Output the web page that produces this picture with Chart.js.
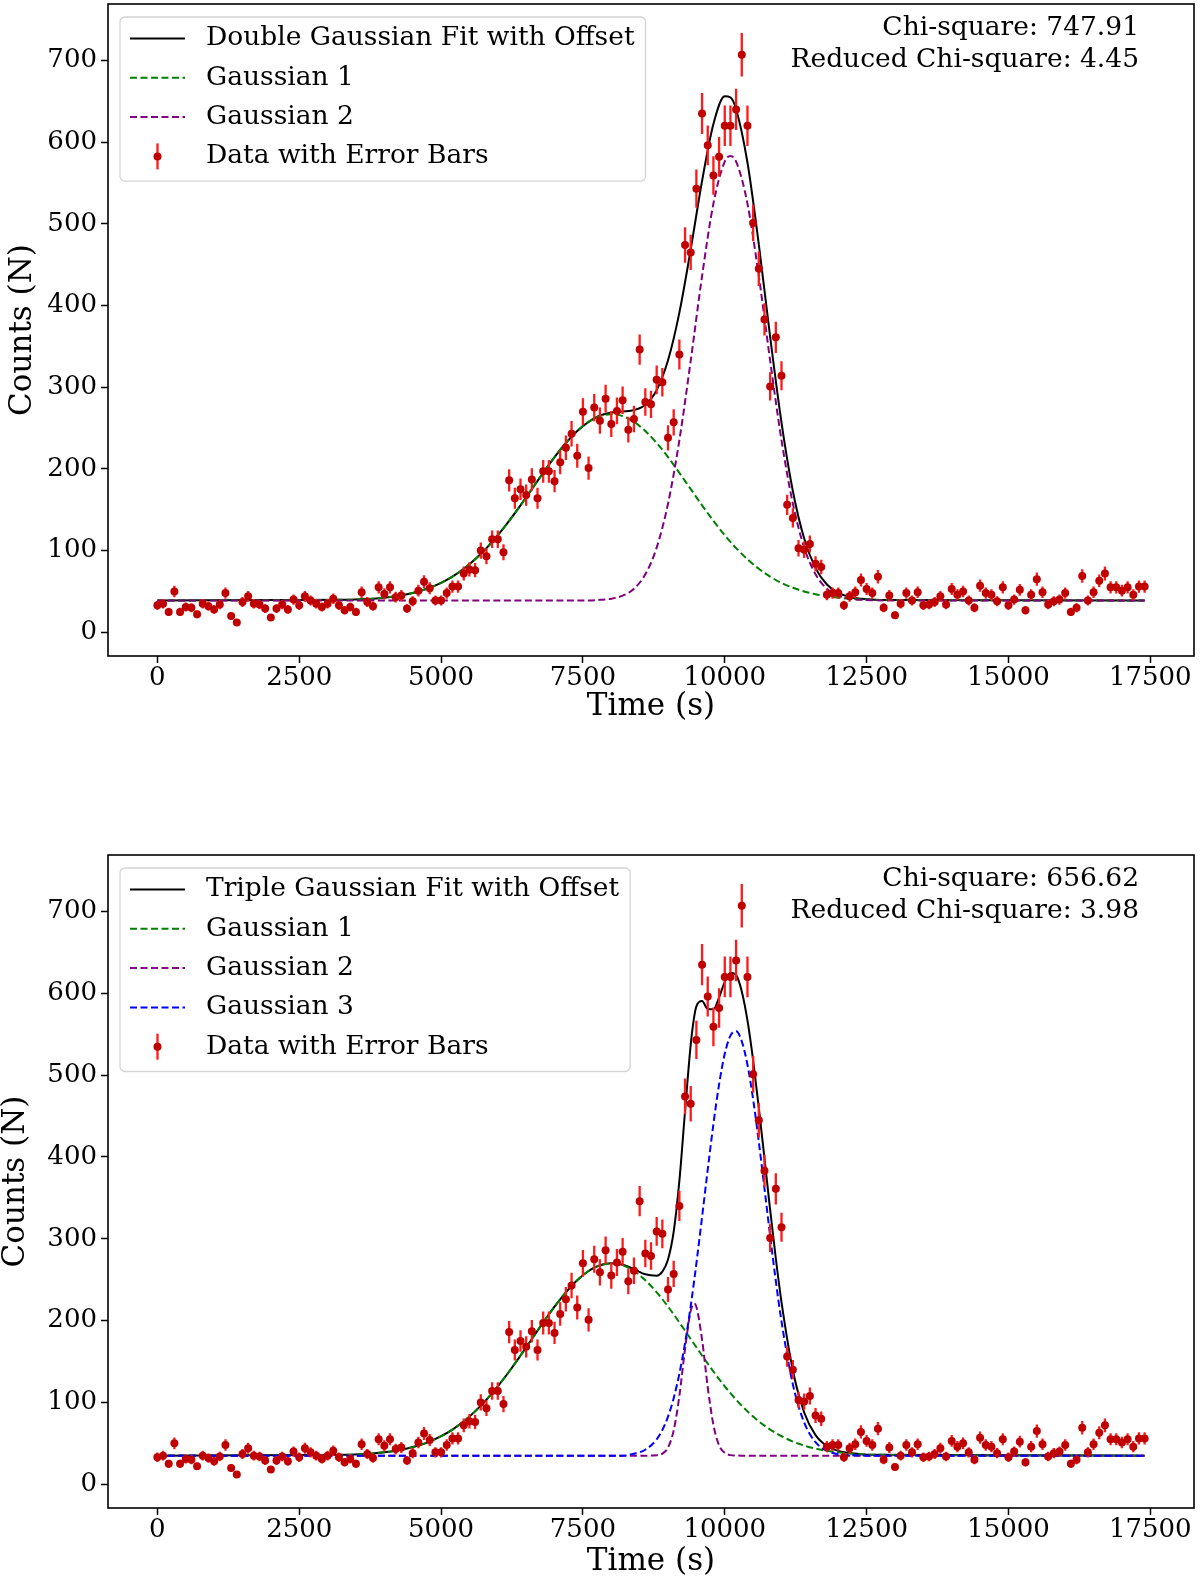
<!DOCTYPE html>
<html><head><meta charset="utf-8">
<script src="https://cdn.jsdelivr.net/npm/chart.js@4.4.0/dist/chart.umd.min.js"></script>
<style>
html,body{margin:0;padding:0;background:#fff;}
body{width:1200px;height:1586px;position:relative;overflow:hidden;}
.wrap{position:absolute;left:0;width:1200px;}
canvas{display:block;}
</style></head><body>
<div class="wrap" style="top:0;height:760px"><canvas id="c1" width="1200" height="760"></canvas></div>
<div class="wrap" style="top:851px;height:735px"><canvas id="c2" width="1200" height="735"></canvas></div>
<script>
// ---------- observed data (time in s, counts N, Poisson error) ----------
const dataTimes = [0,100,200,300,400,500,600,700,800,900,1000,1100,1200,1300,1400,1500,1600,1700,1800,1900,2000,2100,2200,2300,2400,2500,2600,2700,2800,2900,3000,3100,3200,3300,3400,3500,3600,3700,3800,3900,4000,4100,4200,4300,4400,4500,4600,4700,4800,4900,5000,5100,5200,5300,5400,5500,5600,5700,5800,5900,6000,6100,6200,6300,6400,6500,6600,6700,6800,6900,7000,7100,7200,7300,7400,7500,7600,7700,7800,7900,8000,8100,8200,8300,8400,8500,8600,8700,8800,8900,9000,9100,9200,9300,9400,9500,9600,9700,9800,9900,10000,10100,10200,10300,10400,10500,10600,10700,10800,10900,11000,11100,11200,11300,11400,11500,11600,11700,11800,11900,12000,12100,12200,12300,12400,12500,12600,12700,12800,12900,13000,13100,13200,13300,13400,13500,13600,13700,13800,13900,14000,14100,14200,14300,14400,14500,14600,14700,14800,14900,15000,15100,15200,15300,15400,15500,15600,15700,15800,15900,16000,16100,16200,16300,16400,16500,16600,16700,16800,16900,17000,17100,17200,17300,17400];
const counts = [33,35,25,50,25,31,30,22,35,32,28,34,48,20,12,37,44,35,34,29,18,29,34,28,40,33,44,39,35,31,35,41,33,27,31,25,49,37,32,55,47,55,43,45,29,38,51,62,54,39,39,48,56,56,72,77,76,100,93,114,114,98,186,164,175,168,187,164,197,197,185,208,226,243,216,270,201,275,259,286,255,271,284,248,261,346,282,279,309,306,238,257,340,474,465,543,635,596,559,582,620,620,640,707,620,501,445,383,301,361,314,156,140,103,101,108,84,80,46,48,48,33,44,49,64,53,48,68,30,45,21,35,48,39,49,33,34,37,44,34,53,46,50,39,30,57,48,46,38,55,33,40,52,27,46,65,49,34,38,40,48,25,30,69,39,49,63,72,55,55,51,55,46,56,56];
const countErrors = [5.7,5.9,5.0,7.1,5.0,5.6,5.5,4.7,5.9,5.7,5.3,5.8,6.9,4.5,3.5,6.1,6.6,5.9,5.8,5.4,4.2,5.4,5.8,5.3,6.3,5.7,6.6,6.2,5.9,5.6,5.9,6.4,5.7,5.2,5.6,5.0,7.0,6.1,5.7,7.4,6.9,7.4,6.6,6.7,5.4,6.2,7.1,7.9,7.3,6.2,6.2,6.9,7.5,7.5,8.5,8.8,8.7,10.0,9.6,10.7,10.7,9.9,13.6,12.8,13.2,13.0,13.7,12.8,14.0,14.0,13.6,14.4,15.0,15.6,14.7,16.4,14.2,16.6,16.1,16.9,16.0,16.5,16.9,15.7,16.2,18.6,16.8,16.7,17.6,17.5,15.4,16.0,18.4,21.8,21.6,23.3,25.2,24.4,23.6,24.1,24.9,24.9,25.3,26.6,24.9,22.4,21.1,19.6,17.3,19.0,17.7,12.5,11.8,10.1,10.0,10.4,9.2,8.9,6.8,6.9,6.9,5.7,6.6,7.0,8.0,7.3,6.9,8.2,5.5,6.7,4.6,5.9,6.9,6.2,7.0,5.7,5.8,6.1,6.6,5.8,7.3,6.8,7.1,6.2,5.5,7.5,6.9,6.8,6.2,7.4,5.7,6.3,7.2,5.2,6.8,8.1,7.0,5.8,6.2,6.3,6.9,5.0,5.5,8.3,6.2,7.0,7.9,8.5,7.4,7.4,7.1,7.4,6.8,7.5,7.5];

// ---------- top panel: double gaussian fit ----------
const fit1Times = [0,3400,3600,3800,4000,4200,4400,4600,4800,5000,5200,5400,5600,5800,6000,6200,6400,6600,6800,7000,7200,7400,7600,7800,8000,8200,8400,8600,8800,9000,9200,9400,9600,9800,10000,10100,10200,10400,10600,10800,11000,11200,11400,11600,11800,12000,12200,12400,12600,12800,17400];
const fit1Total = [39,39.9,40.4,41.2,42.4,44.2,46.6,50.0,54.5,60.5,68.1,77.7,89.3,103.0,118.8,136.4,155.4,175.3,195.2,214.4,231.7,246.4,257.6,265.3,269.1,270.4,271.9,278.4,296.4,332.9,391.3,468.7,552.4,622.1,656.0,654.6,640.2,575.0,474.7,361.5,256.6,173.0,114.7,78.6,58.5,48.2,43.3,41.1,40.1,39.5,39];
const fit1Gauss1 = [39,39.9,40.4,41.2,42.4,44.2,46.6,50.0,54.5,60.5,68.1,77.7,89.3,103.0,118.8,136.4,155.4,175.3,195.2,214.4,231.7,246.4,257.6,264.6,267.0,264.6,257.6,246.4,231.7,214.4,195.2,175.3,155.4,136.4,118.8,110.6,103.0,89.3,77.7,68.1,60.5,54.5,50.0,46.6,44.2,42.4,41.2,40.4,39.9,39.5,39];
const fit1Gauss2 = [39,39,39,39,39,39,39,39,39,39,39,39,39,39,39,39,39,39,39,39,39,39,39,39.7,41.1,44.8,53.3,71.0,103.7,157.5,235.1,332.4,436.0,524.7,576.2,583.0,576.2,524.7,436.0,332.4,235.1,157.5,103.7,71.0,53.3,44.8,41.1,39.7,39.2,39,39];

// ---------- bottom panel: triple gaussian fit ----------
const fit2Times = [0,3400,3600,3800,4000,4200,4400,4600,4800,5000,5200,5400,5600,5800,6000,6200,6400,6600,6800,7000,7200,7400,7600,7800,8000,8200,8400,8600,8800,8900,9000,9100,9200,9300,9400,9460,9500,9600,9700,9800,9900,10000,10100,10200,10300,10400,10500,10600,10700,10800,10900,11000,11200,11400,11600,11800,12000,12200,12400,12600,17400];
const fit2Total = [35,36.1,36.7,37.6,39.0,40.9,43.6,47.3,52.2,58.7,66.8,76.9,89.1,103.4,119.7,137.8,157.3,177.5,197.8,217.1,234.6,249.4,260.6,267.6,270.2,268.2,262.9,256.6,254.9,259.8,274.7,308.7,370.7,455.8,537.2,570.8,584.1,590.6,580.8,580.5,595.0,614.0,625.2,622.1,602.3,566.8,518.1,460.4,398.1,335.3,275.9,222.6,139.4,87.7,60.0,46.7,40.8,38.1,36.8,36.1,35];
const fit2Gauss1 = [35,36.1,36.7,37.6,39.0,40.9,43.6,47.3,52.2,58.7,66.8,76.9,89.1,103.4,119.7,137.8,157.3,177.5,197.8,217.1,234.6,249.4,260.6,267.6,270,267.6,260.6,249.4,234.6,226.1,217.1,207.6,197.8,187.7,177.5,171.4,167.4,157.3,147.4,137.8,128.6,119.7,111.3,103.4,96.0,89.1,82.7,76.9,71.6,66.8,62.5,58.7,52.2,47.3,43.6,40.9,39.0,37.6,36.7,36.1,35];
const fit2Gauss2 = [35,35,35,35,35,35,35,35,35,35,35,35,35,35,35,35,35,35,35,35,35,35,35,35,35,35,35,35,35.5,37.4,44.9,65.9,107.9,165.5,211.9,221.0,216.9,176.8,118.8,72.5,47.7,38.3,35.6,35.1,35,35,35,35,35,35,35,35,35,35,35,35,35,35,35,35,35];
const fit2Gauss3 = [35,35,35,35,35,35,35,35,35,35,35,35,35,35,35,35,35,35,35,35,35,35,35,35,35,35,37.3,42.2,54.8,66.3,82.7,105.2,135.0,172.6,217.8,248.4,269.8,326.5,384.6,440.2,488.7,526.0,548.3,553.6,541.3,512.7,470.4,418.5,361.5,303.5,248.4,198.9,122.2,75.4,51.4,40.8,36.8,35.5,35.1,35,35];

// ---------- axes & text ----------
const xTickValues = [0,2500,5000,7500,10000,12500,15000,17500];
const yTickValues = [0,100,200,300,400,500,600,700];
const xTitle = 'Time (s)';
const yTitle = 'Counts (N)';
const legend1Labels = ['Double Gaussian Fit with Offset','Gaussian 1','Gaussian 2','Data with Error Bars'];
const legend2Labels = ['Triple Gaussian Fit with Offset','Gaussian 1','Gaussian 2','Gaussian 3','Data with Error Bars'];
const chi1Lines = ['Chi-square: 747.91','Reduced Chi-square: 4.45'];
const chi2Lines = ['Chi-square: 656.62','Reduced Chi-square: 3.98'];

// ---------- styling ----------
const FONT = '"DejaVu Serif", "Liberation Serif", serif';
const MARKER = '#c00000';
const ERRCOL = '#ff1a1a';
Chart.defaults.font.family = FONT;
Chart.defaults.color = '#000';

function pts(xs, ys){ return xs.map((x,i)=>({x:x, y:ys[i]})); }

const errorBarPlugin = {
  id: 'errBars',
  beforeDatasetDraw(chart, args) {
    if (args.index !== 0) return;
    const ctx = chart.ctx, xs = chart.scales.x, ys = chart.scales.y, ca = chart.chartArea;
    ctx.save();
    ctx.beginPath(); ctx.rect(ca.left, ca.top, ca.right-ca.left, ca.bottom-ca.top); ctx.clip();
    ctx.strokeStyle = ERRCOL; ctx.lineWidth = 2.3; ctx.lineCap = 'butt';
    ctx.beginPath();
    for (let i = 0; i < dataTimes.length; i++) {
      const x = xs.getPixelForValue(dataTimes[i]);
      ctx.moveTo(x, ys.getPixelForValue(counts[i] - countErrors[i]));
      ctx.lineTo(x, ys.getPixelForValue(counts[i] + countErrors[i]));
    }
    ctx.stroke();
    ctx.restore();
  }
};

function rrect(ctx, x, y, w, h, r){
  ctx.beginPath();
  ctx.moveTo(x+r, y); ctx.lineTo(x+w-r, y); ctx.arcTo(x+w, y, x+w, y+r, r);
  ctx.lineTo(x+w, y+h-r); ctx.arcTo(x+w, y+h, x+w-r, y+h, r);
  ctx.lineTo(x+r, y+h); ctx.arcTo(x, y+h, x, y+h-r, r);
  ctx.lineTo(x, y+r); ctx.arcTo(x, y, x+r, y, r); ctx.closePath();
}

const frameLegendPlugin = {
  id: 'frameLegend',
  afterDraw(chart, args, opts) {
    const ctx = chart.ctx, ca = chart.chartArea;
    ctx.save();
    ctx.strokeStyle = '#000'; ctx.lineWidth = 1.6;
    ctx.strokeRect(ca.left, ca.top, ca.right-ca.left, ca.bottom-ca.top);
    ctx.font = '26.5px ' + FONT;
    const items = opts.items;
    let maxW = 0; items.forEach(it => { maxW = Math.max(maxW, ctx.measureText(it.label).width); });
    const bx = ca.left + 12, by = ca.top + 13;
    const textX = ca.left + 98;
    const rowH = 39.3;
    const bw = textX + maxW + 11 - bx;
    const bh = items.length * rowH + 7;
    rrect(ctx, bx, by, bw, bh, 5);
    ctx.fillStyle = 'rgba(255,255,255,0.85)'; ctx.fill();
    ctx.strokeStyle = '#d4d4d4'; ctx.lineWidth = 1.3; ctx.stroke();
    items.forEach((it, i) => {
      const y = ca.top + 34.5 + i * rowH;
      if (it.kind === 'err') {
        const cx = ca.left + 49.5;
        ctx.strokeStyle = ERRCOL; ctx.lineWidth = 2.3;
        ctx.beginPath(); ctx.moveTo(cx, y - 13); ctx.lineTo(cx, y + 13); ctx.stroke();
        ctx.fillStyle = MARKER; ctx.beginPath(); ctx.arc(cx, y, 4, 0, Math.PI*2); ctx.fill();
      } else {
        ctx.strokeStyle = it.color; ctx.lineWidth = 2;
        ctx.setLineDash(it.dash || []);
        ctx.beginPath(); ctx.moveTo(ca.left + 22, y); ctx.lineTo(ca.left + 77, y); ctx.stroke();
        ctx.setLineDash([]);
      }
      ctx.fillStyle = '#000'; ctx.textAlign = 'left'; ctx.textBaseline = 'middle';
      ctx.fillText(it.label, textX, y);
    });
    ctx.textAlign = 'right'; ctx.textBaseline = 'middle'; ctx.fillStyle = '#000';
    opts.chi.forEach((s, i) => ctx.fillText(s, ca.right - 55, ca.top + 24.3 + i * 31.6));
    ctx.restore();
  }
};

const DASH = [7, 3.5];

function makeChart(id, fitDatasets, legendItems, chiLines, xAxisHeight, xTitlePadBottom, yTitlePadTop) {
  const datasets = [{
    label: 'Data with Error Bars', data: pts(dataTimes, counts), showLine: false,
    pointRadius: 4, pointBackgroundColor: MARKER, pointBorderWidth: 0, pointHoverRadius: 4
  }].concat(fitDatasets.map(f => ({
    label: f.label, data: pts(f.times, f.values), showLine: true, pointRadius: 0, pointHoverRadius: 0,
    borderColor: f.color, borderWidth: 2, borderDash: f.dash || [], cubicInterpolationMode: 'monotone', fill: false
  })));
  return new Chart(document.getElementById(id), {
    type: 'scatter',
    data: { datasets },
    options: {
      responsive: false, animation: false, events: [],
      layout: { padding: { left: 0, right: 6, top: 2, bottom: 0 } },
      plugins: { legend: { display: false }, tooltip: { enabled: false },
        frameLegend: { items: legendItems, chi: chiLines } },
      scales: {
        x: {
          type: 'linear', min: -870, max: 18270,
          afterBuildTicks: s => { s.ticks = xTickValues.map(v => ({ value: v })); },
          afterFit: s => { s.height = xAxisHeight; s.paddingLeft = 0; s.paddingRight = 0; },
          ticks: { font: { size: 26 }, color: '#000', padding: 0, maxRotation: 0, autoSkip: false, callback: v => String(v) },
          grid: { display: true, drawOnChartArea: false, drawTicks: true, tickLength: 7, tickWidth: 1.5, tickColor: '#000' },
          border: { display: false },
          title: { display: true, text: xTitle, font: { size: 31 }, color: '#000', padding: { top: 0, bottom: xTitlePadBottom } }
        },
        y: {
          type: 'linear', min: -29, max: 769,
          afterBuildTicks: s => { s.ticks = yTickValues.map(v => ({ value: v })); },
          afterFit: s => { s.width = 108; s.paddingTop = 0; s.paddingBottom = 0; },
          ticks: { font: { size: 26 }, color: '#000', padding: 4, autoSkip: false, callback: v => String(v) },
          grid: { display: true, drawOnChartArea: false, drawTicks: true, tickLength: 7, tickWidth: 1.5, tickColor: '#000' },
          border: { display: false },
          title: { display: true, text: yTitle, font: { size: 31 }, color: '#000', padding: { top: yTitlePadTop, bottom: 0 } }
        }
      }
    },
    plugins: [errorBarPlugin, frameLegendPlugin]
  });
}

makeChart('c1', [
  { label: 'Gaussian 2', times: fit1Times, values: fit1Gauss2, color: 'purple', dash: DASH },
  { label: 'Gaussian 1', times: fit1Times, values: fit1Gauss1, color: 'green', dash: DASH },
  { label: legend1Labels[0], times: fit1Times, values: fit1Total, color: '#000' }
], [
  { label: legend1Labels[0], color: '#000' },
  { label: legend1Labels[1], color: 'green', dash: DASH },
  { label: legend1Labels[2], color: 'purple', dash: DASH },
  { label: legend1Labels[3], kind: 'err' }
], chi1Lines, 104, 34, 4);

makeChart('c2', [
  { label: 'Gaussian 3', times: fit2Times, values: fit2Gauss3, color: 'blue', dash: DASH },
  { label: 'Gaussian 2', times: fit2Times, values: fit2Gauss2, color: 'purple', dash: DASH },
  { label: 'Gaussian 1', times: fit2Times, values: fit2Gauss1, color: 'green', dash: DASH },
  { label: legend2Labels[0], times: fit2Times, values: fit2Total, color: '#000' }
], [
  { label: legend2Labels[0], color: '#000' },
  { label: legend2Labels[1], color: 'green', dash: DASH },
  { label: legend2Labels[2], color: 'purple', dash: DASH },
  { label: legend2Labels[3], color: 'blue', dash: DASH },
  { label: legend2Labels[4], kind: 'err' }
], chi2Lines, 78, 5, -3);
</script>
</body></html>
